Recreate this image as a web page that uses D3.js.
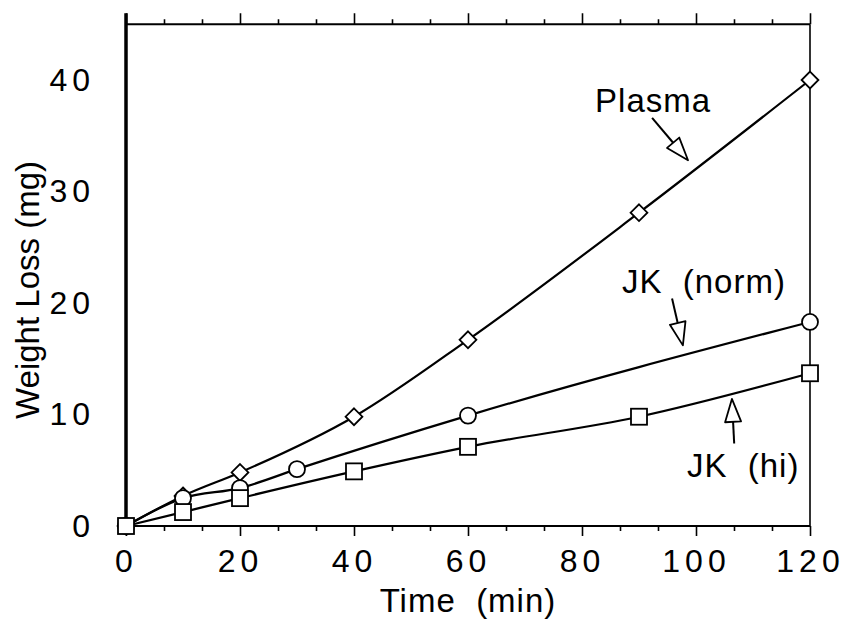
<!DOCTYPE html>
<html>
<head>
<meta charset="utf-8">
<script src="https://cdn.jsdelivr.net/npm/d3@7"></script>
<style>
  body { margin: 0; background: #fff; }
  text { font-family: "Liberation Sans", Arial, Helvetica, sans-serif; fill: #000; }
</style>
</head>
<body>
<div id="chart"></div>
<script>

var svgWidth = 846;
var svgHeight = 621;

// data (time in min, weight loss in mg)
var plasmaTime = [0, 10, 20, 40, 60, 90, 120];
var plasmaLoss = [0, 2.7, 4.8, 9.8, 16.7, 28.1, 40.0];

var normTime = [0, 10, 20, 30, 60, 120];
var normLoss = [0, 2.5, 3.4, 5.1, 9.9, 18.3];

var hiTime = [0, 10, 20, 40, 60, 90, 120];
var hiLoss = [0, 1.25, 2.5, 4.9, 7.1, 9.8, 13.7];

var xTicks = [0, 20, 40, 60, 80, 100, 120];
var yTicks = [0, 10, 20, 30, 40];

// annotation text + arrows, in data units
var labelText = ['Plasma', 'JK  (norm)', 'JK  (hi)'];
var labelPos = [[82.3, 37.1], [87.0, 20.9], [98.4, 4.4]];
var arrowFrom = [[92.3, 36.6], [95.8, 20.4], [106.7, 7.4]];
var arrowTo = [[98.6, 32.8], [97.7, 16.2], [106.3, 11.4]];

var svg = d3.select('#chart')
  .append('svg')
  .attr('width', svgWidth)
  .attr('height', svgHeight);

var x = d3.scaleLinear().domain([0, 120]).range([126, 810]);
var y = d3.scaleLinear().domain([0, 40]).range([526, 80]);
var yTop = y(45);

// minor ticks every 20/3 min
var minorTicks = d3.range(0, 121, 20 / 3).filter(function(t) {
  return Math.abs(t / 20 - Math.round(t / 20)) > 0.01;
});

// bottom axis
svg.append('g')
  .attr('transform', `translate(0, ${y(0)})`)
  .call(d3.axisBottom(x).tickValues(minorTicks).tickSize(5).tickSizeOuter(0).tickFormat(''))
  .call(g => g.select('.domain').remove());

var bottomAxis = svg.append('g')
  .attr('transform', `translate(0, ${y(0)})`)
  .call(d3.axisBottom(x).tickValues(xTicks).tickSize(10).tickSizeOuter(0).tickPadding(13));
bottomAxis.select('.domain').remove();
bottomAxis.selectAll('text')
  .attr('font-size', '32px')
  .style('letter-spacing', '5px');

// top axis, ticks only
svg.append('g')
  .attr('transform', `translate(0, ${yTop})`)
  .call(d3.axisTop(x).tickValues(minorTicks).tickSize(5).tickSizeOuter(0).tickFormat(''))
  .call(g => g.select('.domain').remove());
svg.append('g')
  .attr('transform', `translate(0, ${yTop})`)
  .call(d3.axisTop(x).tickValues(xTicks).tickSize(11).tickSizeOuter(0).tickFormat(''))
  .call(g => g.select('.domain').remove());

svg.selectAll('.tick line').attr('stroke', '#000').attr('stroke-width', 1.6);

// left axis labels only
var leftAxis = svg.append('g')
  .attr('transform', `translate(${x(0)}, 0)`)
  .call(d3.axisLeft(y).tickValues(yTicks).tickSize(0).tickPadding(31));
leftAxis.select('.domain').remove();
leftAxis.selectAll('text')
  .attr('font-size', '32px')
  .style('letter-spacing', '5px');

// frame
svg.append('line')
  .attr('x1', x(0)).attr('x2', x(0))
  .attr('y1', yTop - 11).attr('y2', y(0) + 1)
  .attr('stroke', '#000').attr('stroke-width', 3.5);
svg.append('line')
  .attr('x1', x(0)).attr('x2', x(120))
  .attr('y1', yTop).attr('y2', yTop)
  .attr('stroke', '#000').attr('stroke-width', 2);
svg.append('line')
  .attr('x1', x(0)).attr('x2', x(120))
  .attr('y1', y(0)).attr('y2', y(0))
  .attr('stroke', '#000').attr('stroke-width', 2);
svg.append('line')
  .attr('x1', x(120)).attr('x2', x(120))
  .attr('y1', yTop).attr('y2', y(0))
  .attr('stroke', '#000').attr('stroke-width', 1.6);

// axis titles
svg.append('text')
  .attr('x', 468)
  .attr('y', 612)
  .attr('text-anchor', 'middle')
  .attr('font-size', '33px')
  .style('letter-spacing', '1px')
  .style('white-space', 'pre')
  .text('Time  (min)');

svg.append('text')
  .attr('transform', 'translate(39, 290) rotate(-90)')
  .attr('text-anchor', 'middle')
  .attr('font-size', '33px')
  .text('Weight Loss (mg)');

// curves
var line = d3.line()
  .x(d => x(d[0]))
  .y(d => y(d[1]))
  .curve(d3.curveMonotoneX);

var plasma = plasmaTime.map((t, i) => [t, plasmaLoss[i]]);
var norm = normTime.map((t, i) => [t, normLoss[i]]);
var hi = hiTime.map((t, i) => [t, hiLoss[i]]);

[plasma, norm, hi].forEach(function(s) {
  svg.append('path')
    .datum(s)
    .attr('d', line)
    .attr('fill', 'none')
    .attr('stroke', '#000')
    .attr('stroke-width', 2.2);
});

// markers: diamonds, circles, squares (open)
svg.selectAll('.diamond')
  .data(plasma)
  .enter()
  .append('path')
  .attr('d', d3.symbol().type(d3.symbolDiamond2).size(180))
  .attr('transform', d => `translate(${x(d[0])}, ${y(d[1])})`)
  .attr('fill', '#fff')
  .attr('stroke', '#000')
  .attr('stroke-width', 1.8);

svg.selectAll('.circ')
  .data(norm)
  .enter()
  .append('circle')
  .attr('cx', d => x(d[0]))
  .attr('cy', d => y(d[1]))
  .attr('r', 8)
  .attr('fill', '#fff')
  .attr('stroke', '#000')
  .attr('stroke-width', 1.8);

svg.selectAll('.sq')
  .data(hi)
  .enter()
  .append('rect')
  .attr('x', d => x(d[0]) - 8)
  .attr('y', d => y(d[1]) - 8)
  .attr('width', 16)
  .attr('height', 16)
  .attr('fill', '#fff')
  .attr('stroke', '#000')
  .attr('stroke-width', 1.8);

// labels
labelText.forEach(function(t, i) {
  svg.append('text')
    .attr('x', x(labelPos[i][0]))
    .attr('y', y(labelPos[i][1]))
    .attr('font-size', '33px')
    .style('letter-spacing', '1px')
    .style('white-space', 'pre')
    .text(t);
});

// open-headed arrows
function drawArrow(p0, p1) {
  var x0 = x(p0[0]), y0 = y(p0[1]);
  var x1 = x(p1[0]), y1 = y(p1[1]);
  var ang = Math.atan2(y1 - y0, x1 - x0);
  var len = 23, half = 8;
  var bx = x1 - len * Math.cos(ang), by = y1 - len * Math.sin(ang);
  var nx = -Math.sin(ang), ny = Math.cos(ang);

  svg.append('line')
    .attr('x1', x0).attr('y1', y0)
    .attr('x2', bx).attr('y2', by)
    .attr('stroke', '#000').attr('stroke-width', 2);

  svg.append('path')
    .attr('d', `M${x1},${y1}L${bx + nx * half},${by + ny * half}L${bx - nx * half},${by - ny * half}Z`)
    .attr('fill', '#fff')
    .attr('stroke', '#000')
    .attr('stroke-width', 1.8)
    .attr('stroke-linejoin', 'round');
}

arrowFrom.forEach(function(p, i) {
  drawArrow(p, arrowTo[i]);
});

</script>
</body>
</html>
